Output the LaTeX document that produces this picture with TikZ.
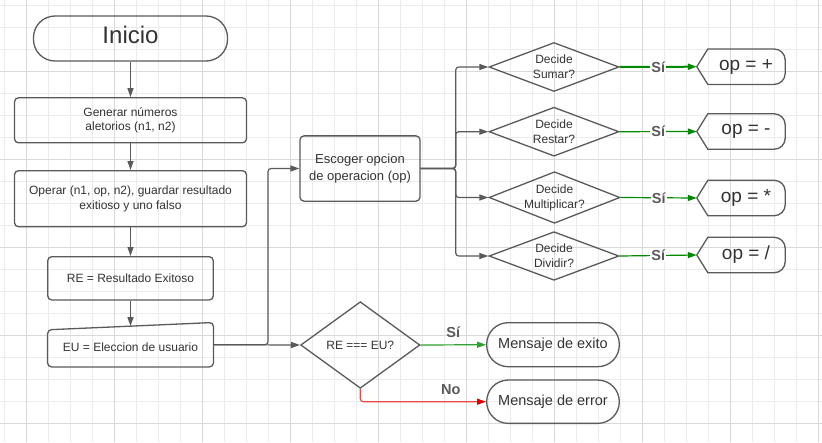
\documentclass[tikz,border=0pt]{standalone}
\usepackage{fontspec}
\setmainfont{Liberation Sans}
\usetikzlibrary{shapes.geometric,arrows.meta,calc}

\definecolor{ink}{HTML}{333333}
\definecolor{edge}{HTML}{5A5A5A}
\definecolor{gridminor}{HTML}{EBEBEB}
\definecolor{gridmajor}{HTML}{D9D9D9}
\definecolor{yesgreen}{HTML}{008A00}
\definecolor{yeslight}{HTML}{2EA02E}
\definecolor{nored}{HTML}{E84848}
\definecolor{noredtip}{HTML}{E00000}

\begin{document}
\begin{tikzpicture}[x=1pt,y=1pt,
  procbox/.style={draw=edge,line width=1.3pt,rounded corners=4pt,text=ink,align=center,
    inner sep=2pt,font=\fontsize{12}{14.4}\selectfont},
  terminal/.style={draw=edge,line width=1.3pt,rounded corners=21.5pt,text=ink,align=center,inner sep=2pt},
  plainbox/.style={text=ink,align=center,inner sep=2pt},
  decision/.style={diamond,draw=edge,line width=1.3pt,inner sep=0pt},
  decisiontext/.style={text=ink,align=center,font=\fontsize{12}{15}\selectfont},
  outline/.style={draw=edge,line width=1.3pt},
  flow/.style={draw=edge,line width=1.2pt,rounded corners=3pt,-{Triangle[length=9pt,width=6pt]}},
  yesflow/.style={draw=yesgreen,line width=1.2pt,-{Triangle[length=9pt,width=6pt,color=yesgreen]}},
  answer/.style={text=edge,font=\bfseries\fontsize{14.5}{17}\selectfont,inner sep=1pt},
]
% page and background grid
\useasboundingbox (0,0) rectangle (822,-442);
\fill[white] (0,0) rectangle (822,-442);
\foreach \k in {0,...,37} \draw[gridminor,line width=0.8pt] ({4.3+22*\k},0) -- ({4.3+22*\k},-442);
\foreach \k in {0,...,20} \draw[gridminor,line width=0.8pt] (0,{-5.7-22*\k}) -- (822,{-5.7-22*\k});
\foreach \k in {0,...,9} \draw[gridmajor,line width=0.8pt] ({26.3+88*\k},0) -- ({26.3+88*\k},-442);
\foreach \k in {0,...,4} \draw[gridmajor,line width=0.8pt] (0,{-71.5-88*\k}) -- (822,{-71.5-88*\k});

% main column
\node[terminal,minimum width=194pt,minimum height=45pt,font=\fontsize{24}{28}\selectfont]
  (inicio) at (130.5,-38.5) {\raisebox{3.5pt}[\height][\depth]{Inicio}};
\node[procbox,minimum width=232pt,minimum height=45pt] (gen) at (130.5,-120.3)
  {Generar números\\aletorios (n1, n2)};
\node[procbox,minimum width=232pt,minimum height=56pt] (oper) at (130.5,-198.7)
  {Operar (n1, op, n2), guardar resultado\\exitioso y uno falso};
\node[procbox,minimum width=165.5pt,minimum height=43.3pt] (re) at (130.5,-278.3)
  {RE = Resultado Exitoso};
\node[plainbox,minimum width=165.5pt,minimum height=44pt,font=\fontsize{12}{14.4}\selectfont]
  (eu) at (130.5,-344.7) {\raisebox{-2.5pt}[\height][\depth]{EU = Eleccion de usuario}};
\draw[outline,rounded corners=4pt] (eu.south west) -- ([yshift=-7.3pt]eu.north west)
  -- (eu.north east) -- (eu.south east) -- cycle;

% operation choice
\node[procbox,minimum width=120pt,minimum height=65.3pt,font=\fontsize{13}{16.5}\selectfont]
  (esc) at (360,-168.5) {Escoger opcion\\de operacion (op)};

\node[decision,minimum width=130pt,minimum height=49pt,
  label={[decisiontext]center:Decide\\Sumar?}] (dsum) at (554,-67) {};
\node[decision,minimum width=130pt,minimum height=49pt,
  label={[decisiontext]center:Decide\\Restar?}] (dres) at (554,-131.7) {};
\node[decision,minimum width=131pt,minimum height=51.6pt,
  label={[decisiontext]center:Decide\\Multiplicar?}] (dmul) at (554.5,-197.5) {};
\node[decision,minimum width=130pt,minimum height=48.6pt,
  label={[decisiontext]center:Decide\\Dividir?}] (ddiv) at (554,-256) {};

% display shapes with the chosen operator
\foreach \nm/\yy/\txt in {osum/66.7/{op = +},ores/131.5/{op = -},omul/198/{op = *},odiv/255/{op = /}}{
  \node[plainbox,minimum width=88pt,minimum height=35pt,font=\fontsize{19}{22}\selectfont]
    (\nm) at (741,-\yy) {\hspace*{10pt}\txt};
  \draw[outline] (\nm.west) -- ([xshift=11pt]\nm.north west)
    -- ([xshift=-11pt]\nm.north east) arc[start angle=90,end angle=0,radius=11pt]
    -- ([yshift=11pt]\nm.south east) arc[start angle=0,end angle=-90,radius=11pt]
    -- ([xshift=11pt]\nm.south west) -- cycle;
}

% comparison
\node[decision,minimum width=119.3pt,minimum height=86.6pt,
  label={[decisiontext]center:RE === EU?}] (cmp) at (360.3,-345) {};
\node[terminal,minimum width=132.6pt,minimum height=44pt,font=\fontsize{14.5}{17}\selectfont]
  (ok) at (553,-344.7) {Mensaje de exito};
\node[terminal,minimum width=132.6pt,minimum height=43.3pt,font=\fontsize{14.5}{17}\selectfont]
  (err) at (553,-401.7) {Mensaje de error};

% connectors
\coordinate (fork) at (268,-344.7);
\coordinate (split) at (455.7,-168.5);
\draw[flow] (inicio) -- (gen);
\draw[flow] (gen) -- (oper);
\draw[flow] (oper) -- (re);
\draw[flow] (re) -- ([yshift=-3.6pt]eu.north);
\draw[flow] (eu.east) -- (fork) |- (esc.west);
\draw[flow] (eu.east) -- (cmp.west);
\foreach \d in {dsum,dres,dmul,ddiv} \draw[flow] (esc.east) -- (split) |- (\d.west);

\draw[yesflow,line width=2pt] (dsum.east) -- node[answer,fill=white] (ysum) {Sí} (osum.west);
\draw[yesflow] (dres.east) -- node[answer,fill=white] (yres) {Sí} (ores.west);
\draw[yesflow] (dmul.east) -- node[answer,fill=white] (ymul) {Sí} (omul.west);
\draw[yesflow] (ddiv.east) -- node[answer,fill=white] (ydiv) {Sí} (odiv.west);

\draw[draw=yeslight,line width=1.2pt,-{Triangle[length=9pt,width=6pt,color=yeslight]}]
  (cmp.east) -- node[answer,yshift=13pt] (yok) {Sí} (ok.west);
\draw[draw=nored,line width=1.2pt,rounded corners=3pt,-{Triangle[length=9pt,width=6pt,color=noredtip]}]
  (cmp.south) |- node[answer,pos=0.86,yshift=12.4pt] (nerr) {No} (err.west);
\end{tikzpicture}
\end{document}
